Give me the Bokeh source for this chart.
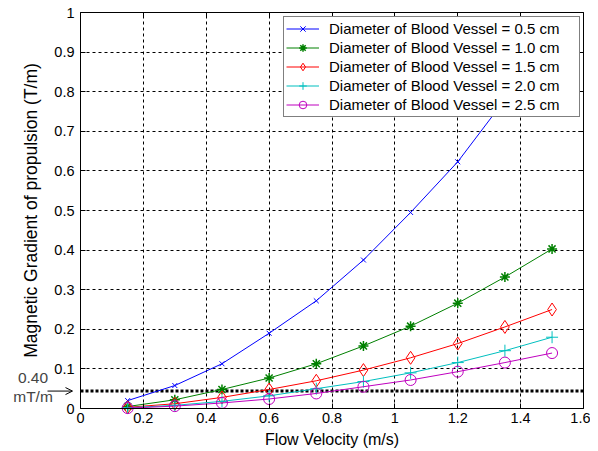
from bokeh.plotting import figure
from bokeh.models import (Range1d, FixedTicker, LinearAxis, CustomJSTickFormatter, Grid,
                          Label, Arrow, OpenHead, Legend, LegendItem)
from bokeh.embed import file_html
from bokeh.resources import INLINE

velocity = [0.15, 0.30, 0.45, 0.60, 0.75, 0.90, 1.05, 1.20, 1.35, 1.50]
d_05 = [0.020, 0.058, 0.113, 0.190, 0.272, 0.375, 0.495, 0.623, 0.780, 0.970]
d_10 = [0.005, 0.022, 0.048, 0.077, 0.113, 0.158, 0.208, 0.266, 0.332, 0.403]
d_15 = [0.003, 0.012, 0.028, 0.048, 0.070, 0.097, 0.128, 0.164, 0.206, 0.250]
d_20 = [0.002, 0.008, 0.018, 0.032, 0.050, 0.068, 0.090, 0.116, 0.146, 0.180]
d_25 = [0.001, 0.006, 0.014, 0.024, 0.038, 0.055, 0.072, 0.093, 0.116, 0.140]
threshold = 0.044
x_ticks = [0, 0.2, 0.4, 0.6, 0.8, 1.0, 1.2, 1.4, 1.6]
y_ticks = [0, 0.1, 0.2, 0.3, 0.4, 0.5, 0.6, 0.7, 0.8, 0.9, 1.0]
series_labels = ["Diameter of Blood Vessel = 0.5 cm", "Diameter of Blood Vessel = 1.0 cm",
                 "Diameter of Blood Vessel = 1.5 cm", "Diameter of Blood Vessel = 2.0 cm",
                 "Diameter of Blood Vessel = 2.5 cm"]
series_colors = ["#0000ff", "#008000", "#ff0000", "#00bfbf", "#bf00bf"]
threshold_text = ["0.40", "mT/m"]

FONT = "Liberation Sans"
W, H = 590, 451
X0, X1 = x_ticks[0], x_ticks[-1]
Y0, Y1 = y_ticks[0], y_ticks[-1]
# the frame covers the whole canvas; the axes box sits inside it at fixed locations
PX_X = (X1 - X0) / 503.0
PX_Y = (Y1 - Y0) / 396.0
X_LO, X_HI = X0 - 80 * PX_X, X1 + (W - 583) * PX_X
Y_LO, Y_HI = Y0 - (H - 408) * PX_Y, Y1 + 12 * PX_Y

p = figure(width=W, height=H, output_backend="svg", toolbar_location=None,
           x_range=Range1d(X_LO, X_HI), y_range=Range1d(Y_LO, Y_HI),
           min_border_left=0, min_border_right=0, min_border_top=0, min_border_bottom=0,
           background_fill_color="white", border_fill_color="white")
p.xaxis.visible = False
p.yaxis.visible = False
p.xgrid.visible = False
p.ygrid.visible = False
p.outline_line_color = None

fmt = CustomJSTickFormatter(code="return tick.toFixed(1).replace(/\\.0$/, '');")

def style_axis(ax, ticks, show_labels, label_size="16px"):
    ax.ticker = FixedTicker(ticks=ticks)
    ax.formatter = fmt
    ax.major_tick_in = 5
    ax.major_tick_out = 0
    ax.minor_tick_line_color = None
    ax.axis_line_color = "black"
    ax.major_tick_line_color = "black"
    ax.major_label_text_font = FONT
    ax.major_label_text_font_size = "14.5px"
    ax.major_label_text_color = "black"
    ax.axis_label_text_font = FONT
    ax.axis_label_text_font_size = label_size
    ax.axis_label_text_font_style = "normal"
    ax.axis_label_text_color = "black"
    if not show_labels:
        ax.major_label_text_alpha = 0
        ax.major_label_text_font_size = "0px"

xb = LinearAxis(axis_label="Flow Velocity (m/s)", bounds=(X0, X1), fixed_location=Y0)
style_axis(xb, x_ticks, True)
xb.major_label_standoff = 4
xb.axis_label_standoff = 5
xt = LinearAxis(bounds=(X0, X1), fixed_location=Y1)
style_axis(xt, x_ticks, False)
yl = LinearAxis(axis_label="Magnetic Gradient of propulsion (T/m)", bounds=(Y0, Y1),
                fixed_location=X0)
style_axis(yl, y_ticks, True, label_size="17.5px")
yl.major_label_standoff = 6
yl.axis_label_standoff = 10
yr = LinearAxis(bounds=(Y0, Y1), fixed_location=X1)
style_axis(yr, y_ticks, False)
p.add_layout(xb, "below")
p.add_layout(xt, "above")
p.add_layout(yl, "left")
p.add_layout(yr, "right")

if "cross_bounds" in Grid.properties():
    p.add_layout(Grid(dimension=0, ticker=FixedTicker(ticks=x_ticks[1:-1]), grid_line_color="black",
                      grid_line_dash="3 3", grid_line_width=1, cross_bounds=(Y0, Y1)))
    p.add_layout(Grid(dimension=1, ticker=FixedTicker(ticks=y_ticks[1:-1]), grid_line_color="black",
                      grid_line_dash="3 3", grid_line_width=1, cross_bounds=(X0, X1)))
else:
    gx = x_ticks[1:-1]
    gy = y_ticks[1:-1]
    p.segment(x0=gx, x1=gx, y0=[Y0] * len(gx), y1=[Y1] * len(gx), line_color="black",
              line_dash="3 3", line_width=1, level="underlay")
    p.segment(x0=[X0] * len(gy), x1=[X1] * len(gy), y0=gy, y1=gy, line_color="black",
              line_dash="3 3", line_width=1, level="underlay")

p.line([X0, X1], [threshold, threshold], line_color="black", line_dash="3 2", line_width=3)

markers = [
    dict(marker="x", size=7, line_width=1, fill_color=None),
    dict(marker="asterisk", size=10, line_width=1.5, fill_color=None),
    dict(marker="diamond", size=13, line_width=1, fill_color=None),
    dict(marker="cross", size=12, line_width=1, fill_color=None),
    dict(marker="circle", size=11, line_width=1, fill_color=None),
]
items = []
for ys, c, lab, mk in zip([d_05, d_10, d_15, d_20, d_25], series_colors, series_labels, markers):
    r = p.line(velocity, ys, color=c, line_width=1)
    m = p.scatter(velocity, ys, line_color=c, **mk)
    items.append(LegendItem(label=lab, renderers=[r, m]))

legend = Legend(items=items, location=(283, H - 117))
legend.label_text_font = FONT
legend.label_text_font_size = "15px"
legend.label_text_color = "black"
legend.border_line_color = "black"
legend.border_line_width = 1
legend.background_fill_color = "white"
legend.background_fill_alpha = 1
legend.spacing = 0
legend.padding = 2
legend.margin = 0
legend.glyph_width = 33
legend.glyph_height = 19
legend.label_height = 19
legend.label_width = 248
legend.label_standoff = 10
p.add_layout(legend, "center")

p.add_layout(Label(x=-0.151, y=0.0763, text=threshold_text[0], text_font=FONT,
                   text_font_size="15.5px", text_align="center", text_baseline="middle"))
p.add_layout(Label(x=-0.151, y=0.0296, text=threshold_text[1], text_font=FONT,
                   text_font_size="15.5px", text_align="center", text_baseline="middle"))
p.add_layout(Arrow(end=OpenHead(size=7, line_width=1), x_start=-0.105, y_start=threshold,
                   x_end=-0.0254, y_end=threshold, line_width=1, line_color="black"))

open("out.html", "w").write(file_html(p, INLINE))
